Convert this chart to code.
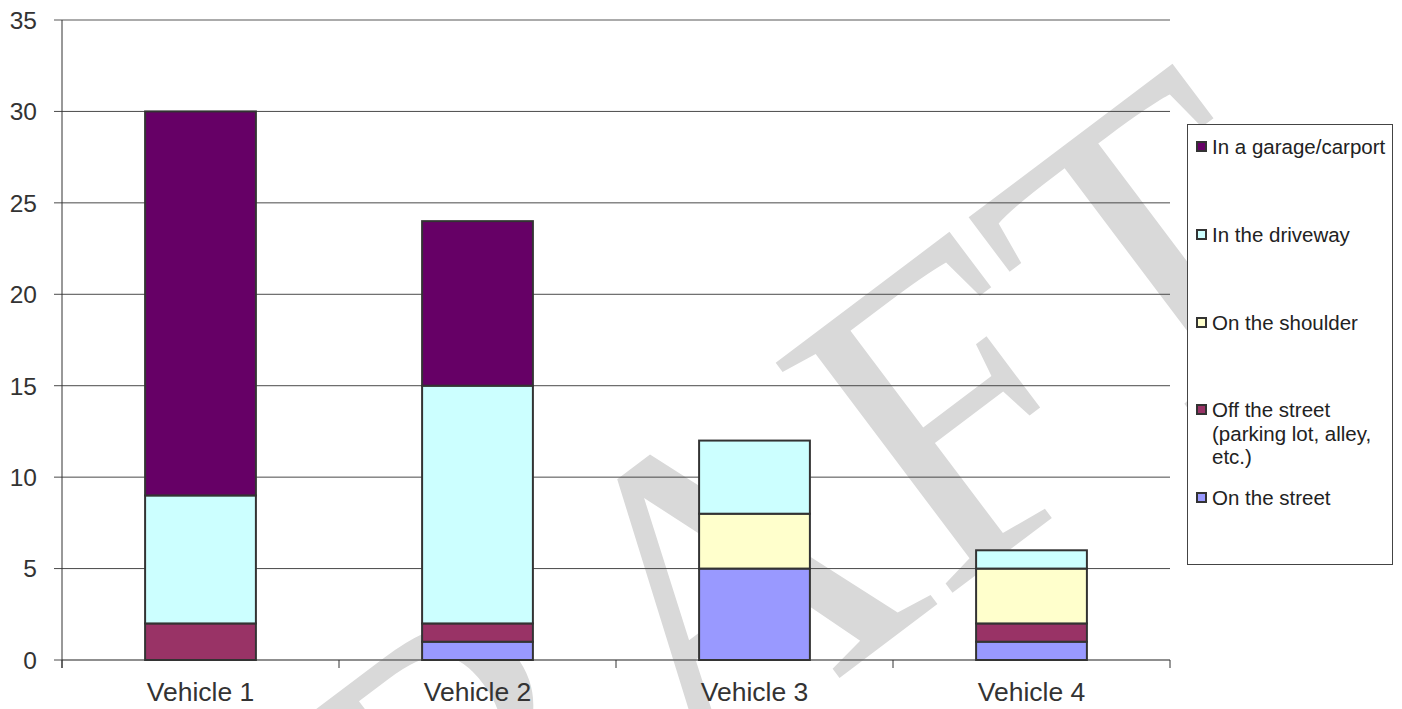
<!DOCTYPE html>
<html>
<head>
<meta charset="utf-8">
<script src="https://cdn.jsdelivr.net/npm/d3@7"></script>
<style>
  html, body { margin: 0; padding: 0; background: #fff; }
  svg { display: block; font-family: "Liberation Sans", Arial, sans-serif; }
</style>
</head>
<body>
<svg id="chart"></svg>
<script>
const categories = ["Vehicle 1", "Vehicle 2", "Vehicle 3", "Vehicle 4"];
const onStreet = [0, 1, 5, 1];
const offStreet = [2, 1, 0, 1];
const onShoulder = [0, 0, 3, 3];
const inDriveway = [7, 13, 4, 1];
const inGarage = [21, 9, 0, 0];
const seriesKeys = ["street", "off", "shoulder", "driveway", "garage"];
const seriesLabels = {
  garage: ["In a garage/carport"],
  driveway: ["In the driveway"],
  shoulder: ["On the shoulder"],
  off: ["Off the street", "(parking lot, alley,", "etc.)"],
  street: ["On the street"]
};
const yTicks = [0, 5, 10, 15, 20, 25, 30, 35];

const size = { width: 1402, height: 709 };
const margin = { top: 20, right: 232, bottom: 49, left: 62 };
const colors = {
  garage: "#660066",
  driveway: "#ccffff",
  shoulder: "#ffffcc",
  off: "#993366",
  street: "#9999ff"
};

const rows = categories.map((c, i) => ({
  cat: c,
  street: onStreet[i],
  off: offStreet[i],
  shoulder: onShoulder[i],
  driveway: inDriveway[i],
  garage: inGarage[i]
}));

const svg = d3
  .select("#chart")
  .attr("width", size.width)
  .attr("height", size.height);

// watermark, sits under everything
svg
  .append("text")
  .text("DRAFT")
  .attr("x", 773)
  .attr("y", 728)
  .attr("transform", "rotate(-37, 773, 728)")
  .attr("text-anchor", "middle")
  .attr("font-family", "Liberation Serif, Times New Roman, serif")
  .attr("font-size", 443)
  .attr("fill", "#d9d9d9");

const x = d3
  .scaleBand()
  .domain(categories)
  .range([margin.left, size.width - margin.right])
  .paddingInner(0.6)
  .paddingOuter(0.3);

const y = d3
  .scaleLinear()
  .domain([0, 35])
  .range([size.height - margin.bottom, margin.top]);

const x0 = margin.left;
const x1 = size.width - margin.right;
const step = (x1 - x0) / categories.length;

// gridlines + y labels
yTicks.forEach((t) => {
  svg
    .append("line")
    .attr("x1", x0 - 8)
    .attr("x2", t === 0 ? x0 : x1)
    .attr("y1", y(t))
    .attr("y2", y(t))
    .attr("stroke", t === 35 ? "#8f8f8f" : "#4a4a4a")
    .attr("stroke-width", t === 35 ? 1.5 : 1);

  svg
    .append("text")
    .text(t)
    .attr("x", 37)
    .attr("y", y(t))
    .attr("dy", "0.36em")
    .attr("text-anchor", "end")
    .attr("font-size", 24.5)
    .attr("fill", "#333");
});

// x axis
svg
  .append("line")
  .attr("x1", x0)
  .attr("x2", x1)
  .attr("y1", y(0))
  .attr("y2", y(0))
  .attr("stroke", "#6a6a6a")
  .attr("stroke-width", 1.3);

d3.range(categories.length + 1).forEach((i) => {
  svg
    .append("line")
    .attr("x1", x0 + i * step)
    .attr("x2", x0 + i * step)
    .attr("y1", y(0))
    .attr("y2", y(0) + 8)
    .attr("stroke", "#333");
});

// y axis
svg
  .append("line")
  .attr("x1", x0)
  .attr("x2", x0)
  .attr("y1", y(35))
  .attr("y2", y(0) + 8)
  .attr("stroke", "#333");

svg
  .append("g")
  .selectAll("text")
  .data(categories)
  .enter()
  .append("text")
  .text((d) => d)
  .attr("x", (d) => x(d) + x.bandwidth() / 2)
  .attr("y", 701)
  .attr("text-anchor", "middle")
  .attr("font-size", 26.5)
  .attr("fill", "#333");

// stacked bars
const stacked = d3.stack().keys(seriesKeys)(rows);

svg
  .append("g")
  .selectAll("g")
  .data(stacked)
  .enter()
  .append("g")
  .attr("fill", (s) => colors[s.key])
  .selectAll("rect")
  .data((s) => s.filter((d) => d[1] - d[0] > 0))
  .enter()
  .append("rect")
  .attr("x", (d) => x(d.data.cat))
  .attr("width", x.bandwidth())
  .attr("y", (d) => y(d[1]))
  .attr("height", (d) => y(d[0]) - y(d[1]))
  .attr("stroke", "#333")
  .attr("stroke-width", 2);

// legend
const legend = svg.append("g");
legend
  .append("rect")
  .attr("x", 1187.5)
  .attr("y", 124.5)
  .attr("width", 205)
  .attr("height", 440)
  .attr("fill", "#fff")
  .attr("stroke", "#444");

const legendOrder = ["garage", "driveway", "shoulder", "off", "street"];
const legendY = [154, 242, 330, 417, 505];

legendOrder.forEach((k, i) => {
  legend
    .append("rect")
    .attr("x", 1197)
    .attr("y", legendY[i] - 12)
    .attr("width", 9)
    .attr("height", 9)
    .attr("fill", colors[k])
    .attr("stroke", "#333")
    .attr("stroke-width", 2);

  seriesLabels[k].forEach((line, j) => {
    legend
      .append("text")
      .text(line)
      .attr("x", 1212)
      .attr("y", legendY[i] + j * 23.5)
      .attr("font-size", 20.5)
      .attr("fill", "#222");
  });
});
</script>
</body>
</html>
